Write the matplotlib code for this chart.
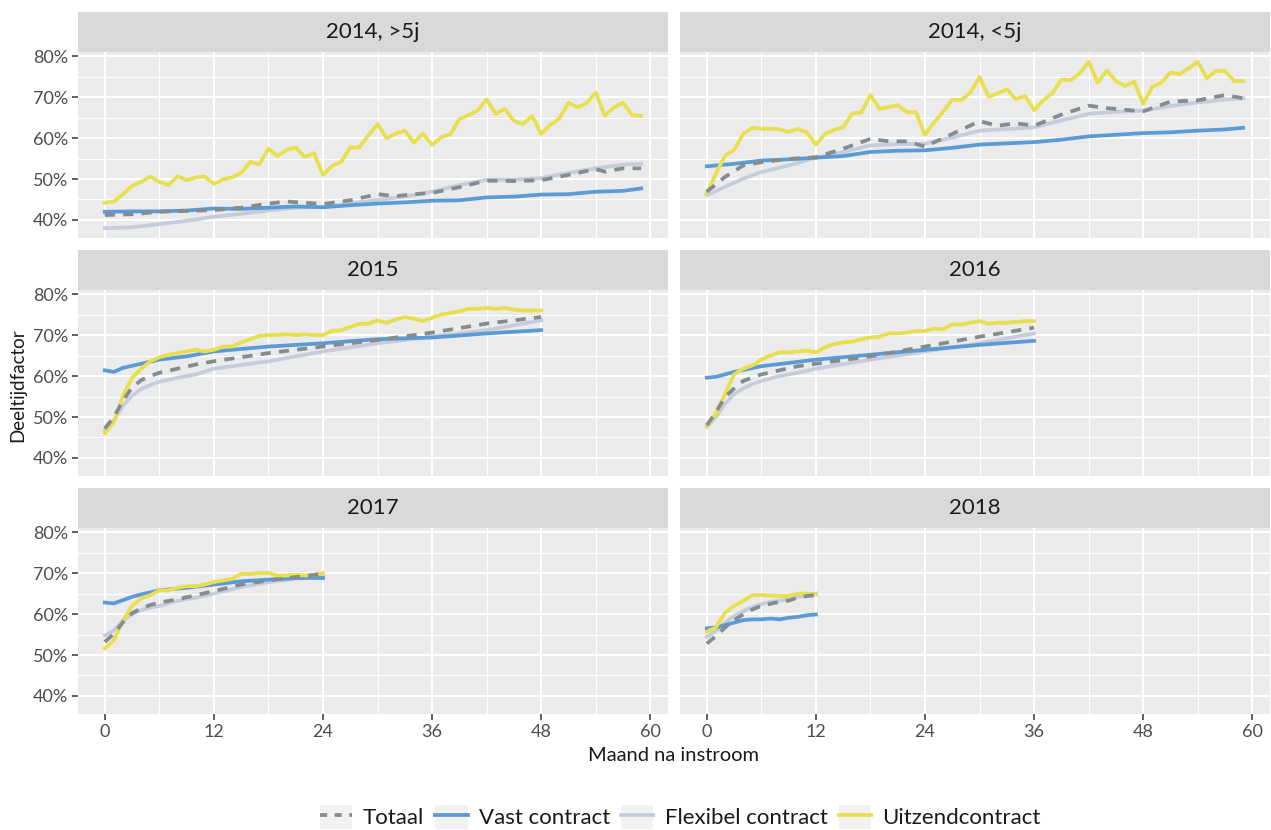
"""Deeltijdfactor per cohort and contract type -> out.png (ggplot-style facets)."""

import matplotlib

matplotlib.use("Agg")
import matplotlib.pyplot as plt
from matplotlib.lines import Line2D
from matplotlib.patches import Patch
from matplotlib.ticker import FixedLocator, PercentFormatter

plt.rcParams["font.family"] = ["Lato", "DejaVu Sans"]

# --- data -------------------------------------------------------------
panel_titles = ["2014, >5j", "2014, <5j", "2015", "2016", "2017", "2018"]
series_names = ["Totaal", "Vast contract", "Flexibel contract", "Uitzendcontract"]

m60 = list(range(60))

# 2014, >5j
p1_uitzend = [0.442, 0.445, 0.463, 0.483, 0.493, 0.506, 0.493, 0.485, 0.507, 0.497,
              0.504, 0.506, 0.488, 0.499, 0.504, 0.515, 0.542, 0.536, 0.574, 0.556,
              0.571, 0.577, 0.554, 0.563, 0.510, 0.532, 0.542, 0.577, 0.577, 0.607,
              0.634, 0.599, 0.611, 0.618, 0.589, 0.611, 0.583, 0.602, 0.609, 0.646,
              0.656, 0.667, 0.694, 0.659, 0.671, 0.642, 0.634, 0.654, 0.610, 0.632,
              0.648, 0.686, 0.675, 0.685, 0.711, 0.654, 0.675, 0.686, 0.656, 0.654]
p1_vast_x = [0, 3, 6, 9, 12, 15, 18, 21, 24, 27, 30, 33, 36, 39, 42, 45, 48, 51, 54, 57, 59]
p1_vast = [0.420, 0.421, 0.421, 0.423, 0.428, 0.427, 0.430, 0.433, 0.431, 0.436, 0.440,
           0.443, 0.447, 0.448, 0.455, 0.457, 0.462, 0.463, 0.469, 0.471, 0.477]
p1_flex_x = p1_vast_x
p1_flex = [0.380, 0.382, 0.390, 0.398, 0.408, 0.415, 0.423, 0.430, 0.432, 0.440, 0.449,
           0.457, 0.469, 0.485, 0.498, 0.498, 0.502, 0.515, 0.526, 0.535, 0.537]
p1_tot_x = [0, 3, 6, 9, 12, 15, 18, 20, 22, 24, 27, 30, 32, 34, 36, 39, 42, 45, 48, 51,
            54, 55, 57, 59]
p1_tot = [0.412, 0.414, 0.420, 0.422, 0.424, 0.430, 0.440, 0.445, 0.442, 0.439, 0.448,
          0.463, 0.458, 0.463, 0.466, 0.480, 0.496, 0.495, 0.497, 0.510, 0.524, 0.518,
          0.526, 0.526]

# 2014, <5j
p2_uitzend = [0.466, 0.513, 0.557, 0.571, 0.610, 0.625, 0.623, 0.623, 0.621, 0.615,
              0.622, 0.614, 0.584, 0.610, 0.620, 0.626, 0.660, 0.663, 0.705, 0.671,
              0.676, 0.680, 0.663, 0.663, 0.608, 0.638, 0.665, 0.693, 0.693, 0.711,
              0.749, 0.701, 0.709, 0.719, 0.695, 0.703, 0.668, 0.692, 0.709, 0.743,
              0.741, 0.757, 0.786, 0.735, 0.765, 0.739, 0.727, 0.738, 0.684, 0.725,
              0.735, 0.760, 0.756, 0.770, 0.786, 0.746, 0.764, 0.764, 0.739, 0.739]
p2_vast_x = [0, 3, 6, 9, 12, 15, 18, 21, 24, 27, 30, 33, 36, 39, 42, 45, 48, 51, 54, 57, 59]
p2_vast = [0.531, 0.537, 0.545, 0.548, 0.552, 0.556, 0.566, 0.569, 0.570, 0.576, 0.584,
           0.587, 0.590, 0.596, 0.604, 0.608, 0.612, 0.614, 0.618, 0.621, 0.625]
p2_flex_x = [0, 2, 4, 6, 9, 12, 15, 18, 21, 24, 27, 30, 33, 36, 39, 42, 45, 48, 51, 54, 57, 59]
p2_flex = [0.460, 0.481, 0.501, 0.517, 0.533, 0.552, 0.566, 0.582, 0.585, 0.586, 0.601,
           0.618, 0.622, 0.626, 0.643, 0.659, 0.664, 0.667, 0.678, 0.687, 0.694, 0.697]
p2_tot_x = [0, 2, 4, 6, 9, 12, 15, 18, 20, 22, 24, 27, 30, 32, 34, 36, 39, 42, 44, 48,
            51, 54, 57, 59]
p2_tot = [0.469, 0.505, 0.533, 0.541, 0.549, 0.553, 0.574, 0.598, 0.592, 0.592, 0.579,
          0.610, 0.641, 0.630, 0.636, 0.630, 0.657, 0.679, 0.673, 0.665, 0.689, 0.692,
          0.705, 0.697]

# 2015
m49 = list(range(49))
p3_uitzend = [0.460, 0.488, 0.552, 0.596, 0.618, 0.636, 0.646, 0.652, 0.656, 0.660,
              0.664, 0.660, 0.664, 0.672, 0.672, 0.682, 0.690, 0.698, 0.700, 0.700,
              0.702, 0.700, 0.702, 0.700, 0.700, 0.710, 0.712, 0.720, 0.727, 0.728,
              0.736, 0.730, 0.738, 0.744, 0.740, 0.734, 0.742, 0.750, 0.754, 0.758,
              0.764, 0.764, 0.766, 0.764, 0.766, 0.762, 0.760, 0.760, 0.760]
p3_vast_x = [0, 1, 2, 4, 6, 9, 12, 18, 24, 30, 36, 42, 48]
p3_vast = [0.614, 0.610, 0.620, 0.630, 0.640, 0.648, 0.660, 0.672, 0.680, 0.690, 0.694,
           0.704, 0.712]
p3_flex_x = [0, 1, 2, 3, 4, 5, 6, 8, 10, 12, 18, 24, 30, 36, 42, 48]
p3_flex = [0.468, 0.492, 0.528, 0.552, 0.568, 0.578, 0.586, 0.596, 0.604, 0.618, 0.636,
           0.660, 0.680, 0.696, 0.712, 0.736]
p3_tot_x = [0, 1, 2, 3, 4, 5, 6, 8, 10, 12, 18, 24, 30, 36, 42, 48]
p3_tot = [0.472, 0.500, 0.540, 0.572, 0.590, 0.600, 0.608, 0.618, 0.628, 0.636, 0.656,
          0.672, 0.688, 0.706, 0.728, 0.744]

# 2016
m37 = list(range(37))
p4_uitzend = [0.478, 0.508, 0.556, 0.604, 0.618, 0.626, 0.640, 0.650, 0.658, 0.658,
              0.660, 0.662, 0.658, 0.670, 0.678, 0.682, 0.684, 0.690, 0.694, 0.696,
              0.704, 0.704, 0.706, 0.710, 0.710, 0.716, 0.714, 0.726, 0.726, 0.730,
              0.734, 0.728, 0.730, 0.730, 0.732, 0.734, 0.734]
p4_vast_x = [0, 1, 3, 6, 9, 12, 18, 24, 30, 36]
p4_vast = [0.596, 0.598, 0.610, 0.624, 0.632, 0.640, 0.652, 0.664, 0.676, 0.686]
p4_flex_x = [0, 1, 2, 3, 4, 5, 6, 8, 10, 12, 18, 24, 30, 36]
p4_flex = [0.476, 0.500, 0.532, 0.556, 0.570, 0.580, 0.588, 0.600, 0.608, 0.618, 0.640,
           0.660, 0.680, 0.704]
p4_tot_x = [0, 1, 2, 3, 4, 5, 6, 8, 10, 12, 18, 24, 30, 36]
p4_tot = [0.480, 0.512, 0.548, 0.570, 0.588, 0.596, 0.604, 0.614, 0.624, 0.630, 0.648,
          0.672, 0.696, 0.718]

# 2017
m25 = list(range(25))
p5_uitzend = [0.516, 0.536, 0.584, 0.620, 0.638, 0.646, 0.658, 0.658, 0.664, 0.668,
              0.668, 0.672, 0.678, 0.682, 0.686, 0.698, 0.698, 0.700, 0.700, 0.694,
              0.694, 0.696, 0.694, 0.696, 0.700]
p5_vast_x = [0, 1, 2, 3, 4, 6, 9, 12, 15, 18, 21, 24]
p5_vast = [0.628, 0.626, 0.634, 0.642, 0.648, 0.658, 0.664, 0.672, 0.680, 0.684, 0.688,
           0.688]
p5_flex_x = [0, 1, 2, 3, 4, 5, 6, 8, 10, 12, 15, 18, 21, 24]
p5_flex = [0.548, 0.560, 0.584, 0.600, 0.610, 0.616, 0.620, 0.632, 0.640, 0.650, 0.666,
           0.678, 0.686, 0.694]
p5_tot_x = p5_flex_x
p5_tot = [0.532, 0.552, 0.580, 0.602, 0.614, 0.622, 0.628, 0.636, 0.646, 0.656, 0.672,
          0.682, 0.690, 0.698]

# 2018
m13 = list(range(13))
p6_uitzend = [0.557, 0.567, 0.603, 0.620, 0.632, 0.646, 0.646, 0.645, 0.644, 0.644,
              0.650, 0.650, 0.648]
p6_vast = [0.565, 0.567, 0.573, 0.579, 0.585, 0.587, 0.587, 0.589, 0.587, 0.591, 0.593,
           0.597, 0.599]
p6_flex = [0.544, 0.559, 0.579, 0.595, 0.607, 0.617, 0.624, 0.630, 0.633, 0.636, 0.641,
           0.646, 0.650]
p6_tot = [0.528, 0.546, 0.567, 0.585, 0.599, 0.611, 0.620, 0.625, 0.630, 0.633, 0.640,
          0.644, 0.646]

panels = [
    [(p1_tot_x, p1_tot), (p1_vast_x, p1_vast), (p1_flex_x, p1_flex), (m60, p1_uitzend)],
    [(p2_tot_x, p2_tot), (p2_vast_x, p2_vast), (p2_flex_x, p2_flex), (m60, p2_uitzend)],
    [(p3_tot_x, p3_tot), (p3_vast_x, p3_vast), (p3_flex_x, p3_flex), (m49, p3_uitzend)],
    [(p4_tot_x, p4_tot), (p4_vast_x, p4_vast), (p4_flex_x, p4_flex), (m37, p4_uitzend)],
    [(p5_tot_x, p5_tot), (p5_vast_x, p5_vast), (p5_flex_x, p5_flex), (m25, p5_uitzend)],
    [(m13, p6_tot), (m13, p6_vast), (m13, p6_flex), (m13, p6_uitzend)],
]

# --- style --------------------------------------------------------------
colors = {"Totaal": "#838C90", "Vast contract": "#5B9BD5",
          "Flexibel contract": "#C7CCDD", "Uitzendcontract": "#E7DF4E"}
draw_order = ["Flexibel contract", "Vast contract", "Uitzendcontract", "Totaal"]
LW = 2.7

W, H = 1271, 830
fig = plt.figure(figsize=(W / 100, H / 100), dpi=100)

col_x = [78, 680]
col_w = 590
row_top = [52, 290, 528]  # panel tops (px from top)
panel_h = 186
strip_h = 40

for i, title in enumerate(panel_titles):
    r, c = divmod(i, 2)
    x0 = col_x[c] / W
    y0 = (H - row_top[r] - panel_h) / H
    ax = fig.add_axes([x0, y0, col_w / W, panel_h / H])
    ax.set_facecolor("#EBEBEB")
    for s in ax.spines.values():
        s.set_visible(False)
    ax.set_xlim(-2.95, 61.95)
    ax.set_ylim(0.356, 0.81)
    ax.xaxis.set_major_locator(FixedLocator([0, 12, 24, 36, 48, 60]))
    ax.xaxis.set_minor_locator(FixedLocator([6, 18, 30, 42, 54]))
    ax.yaxis.set_major_locator(FixedLocator([0.4, 0.5, 0.6, 0.7, 0.8]))
    ax.yaxis.set_minor_locator(FixedLocator([0.35, 0.45, 0.55, 0.65, 0.75]))
    ax.yaxis.set_major_formatter(PercentFormatter(1.0, decimals=0))
    ax.grid(which="major", color="white", lw=1.5)
    ax.grid(which="minor", color="white", lw=0.8)
    ax.set_axisbelow(True)
    ax.tick_params(which="minor", length=0)
    ax.tick_params(which="major", length=4, width=1.1, color="#333333",
                   labelsize=13, labelcolor="#4D4D4D", pad=3)
    if c != 0:
        ax.tick_params(axis="y", left=False, labelleft=False)
    if r != 2:
        ax.tick_params(axis="x", bottom=False, labelbottom=False)

    data = dict(zip(series_names, panels[i]))
    for name in draw_order:
        xs, ys = data[name]
        if name == "Totaal":
            ax.plot(xs, ys, color=colors[name], lw=LW, dashes=(2.7, 2.2),
                    dash_capstyle="butt")
        else:
            ax.plot(xs, ys, color=colors[name], lw=LW, solid_joinstyle="round")

    sax = fig.add_axes([x0, (H - row_top[r]) / H, col_w / W, strip_h / H])
    sax.set_facecolor("#D9D9D9")
    sax.set_xticks([])
    sax.set_yticks([])
    for s in sax.spines.values():
        s.set_visible(False)
    sax.text(0.5, 0.5, title, ha="center", va="center", fontsize=16,
             color="#1A1A1A", transform=sax.transAxes)

fig.text(18 / W, 1 - 385 / H, "Deeltijdfactor", rotation=90, ha="center",
         va="center", fontsize=13.5, color="#1A1A1A")
fig.text(673 / W, 1 - 755 / H, "Maand na instroom", ha="center", va="center",
         fontsize=14.5, color="#1A1A1A")

key_bg = "#F2F2F2"
handles = []
for name in series_names:
    box = Patch(facecolor=key_bg, edgecolor="none")
    if name == "Totaal":
        line = Line2D([], [], color=colors[name], lw=LW, dashes=(1.9, 2.0))
    else:
        line = Line2D([], [], color=colors[name], lw=LW)
    handles.append((box, line))
fig.legend(handles, series_names, loc="center", bbox_to_anchor=(680 / W, 1 - 817 / H),
           ncol=4, frameon=False, fontsize=16, handlelength=1.45, handleheight=1.25,
           handletextpad=0.5, columnspacing=0.5, labelcolor="#1A1A1A")

fig.savefig("out.png", dpi=100)
